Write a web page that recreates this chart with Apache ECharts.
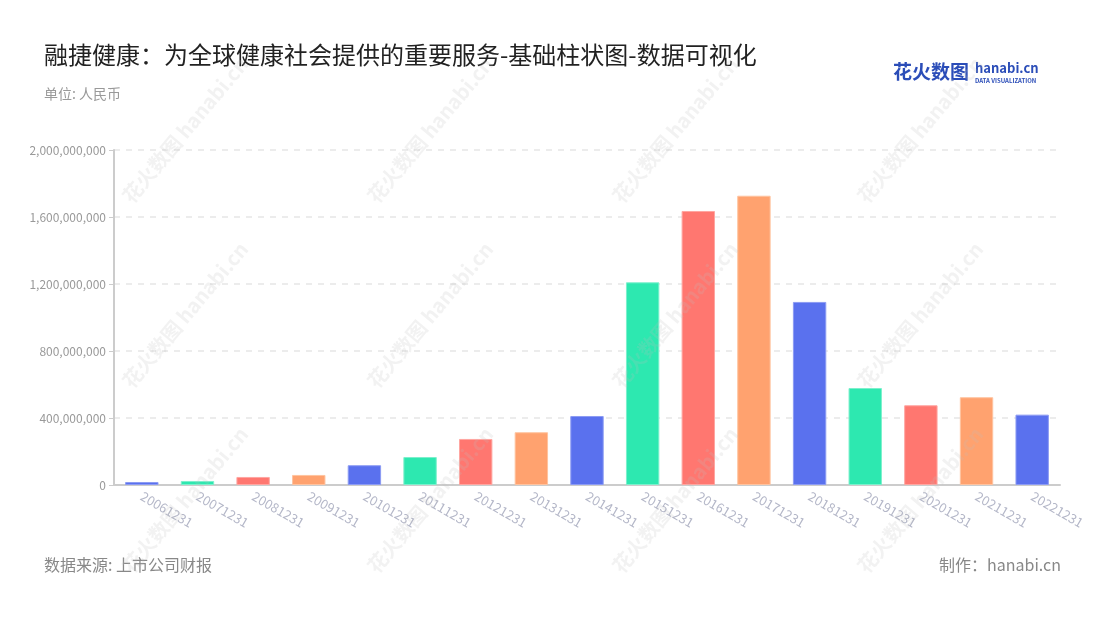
<!DOCTYPE html>
<html>
<head>
<meta charset="utf-8">
<title>融捷健康 基础柱状图</title>
<script src="https://cdn.jsdelivr.net/npm/echarts@6/dist/echarts.min.js"></script>
<style>
html, body { margin: 0; padding: 0; background: #fff; }
#main { width: 1100px; height: 620px; }
</style>
</head>
<body>
<div id="main"></div>
<script>
var dates = ['20061231', '20071231', '20081231', '20091231', '20101231', '20111231',
	'20121231', '20131231', '20141231', '20151231', '20161231', '20171231',
	'20181231', '20191231', '20201231', '20211231', '20221231'];
var revenue = [18000000, 24000000, 48000000, 60000000, 118000000, 167000000,
	275000000, 315000000, 412000000, 1210000000, 1636000000, 1727000000,
	1093000000, 579000000, 476000000, 524000000, 420000000];
var yTicks = [0, 400000000, 800000000, 1200000000, 1600000000, 2000000000];
var barColors = ['#5A71EE', '#2DE8B0', '#FF7770', '#FFA26F'];
var barBorders = ['#8C9BF3', '#7CF0CC', '#FFA6A1', '#FFC39F'];

var FONT = '"Noto Sans CJK SC", "Noto Sans", sans-serif';
var myChart = echarts.init(document.getElementById('main'));

// bar items, coloured in turn
var barData = [];
for (var k = 0; k < revenue.length; k++) {
	barData.push({
		value: revenue[k],
		itemStyle: {
			color: barColors[k % 4],
			borderColor: barBorders[k % 4],
			borderWidth: 1
		}
	});
}

// faint tiled watermark
var marks = [];
var wmX = [185, 430, 675, 920];
var wmY = [130, 315, 500];
for (var i = 0; i < wmX.length; i++) {
	for (var j = 0; j < wmY.length; j++) {
		marks.push({
			type: 'text',
			x: wmX[i],
			y: wmY[j],
			rotation: Math.PI * 50 / 180,
			z: 100,
			silent: true,
			style: {
				text: '花火数图 hanabi.cn',
				font: 'bold 20px ' + FONT,
				fill: 'rgba(190,190,190,0.2)',
				align: 'center',
				verticalAlign: 'middle'
			}
		});
	}
}

var option = {
	backgroundColor: '#fff',
	textStyle: { fontFamily: FONT },
	title: [
		{
			text: '融捷健康：为全球健康社会提供的重要服务-基础柱状图-数据可视化',
			left: 44,
			top: 43,
			padding: 0,
			textStyle: { fontSize: 24, fontWeight: 'normal', color: '#222', fontFamily: FONT }
		},
		{
			text: '单位: 人民币',
			left: 44,
			top: 87,
			padding: 0,
			textStyle: { fontSize: 14, fontWeight: 'normal', color: '#999', fontFamily: FONT }
		},
		{
			text: '数据来源: 上市公司财报',
			left: 44,
			top: 557,
			padding: 0,
			textStyle: { fontSize: 16, fontWeight: 'normal', color: '#888', fontFamily: FONT }
		},
		{
			text: '制作：hanabi.cn',
			right: 39,
			top: 557,
			padding: 0,
			textStyle: { fontSize: 16, fontWeight: 'normal', color: '#888', fontFamily: FONT }
		}
	],
	graphic: marks.concat([
		{
			type: 'text',
			left: 893,
			top: 62,
			style: { text: '花火数图', font: 'bold 19px ' + FONT, fill: '#2B4DB8' }
		},
		{
			type: 'text',
			left: 975,
			top: 62,
			style: { text: 'hanabi.cn', font: 'bold 13px ' + FONT, fill: '#2B4DB8' }
		},
		{
			type: 'text',
			left: 975,
			top: 78,
			style: { text: 'DATA VISUALIZATION', font: 'bold 6px ' + FONT, fill: '#2B4DB8' }
		}
	]),
	grid: {
		left: 114,
		right: 40,
		top: 150,
		bottom: 135,
		containLabel: false
	},
	xAxis: {
		type: 'category',
		data: dates,
		axisLine: { lineStyle: { color: '#ccc', width: 2 } },
		axisTick: { alignWithLabel: true, length: 5, lineStyle: { color: '#ccc' } },
		axisLabel: {
			rotate: -30,
			fontSize: 13,
			color: '#B4B7C8',
			margin: 10,
			interval: 0
		}
	},
	yAxis: {
		type: 'value',
		min: 0,
		max: yTicks[yTicks.length - 1],
		interval: yTicks[1] - yTicks[0],
		axisLine: { show: true, lineStyle: { color: '#ccc', width: 2 } },
		axisTick: { show: true, length: 5, lineStyle: { color: '#ccc' } },
		axisLabel: {
			fontSize: 12,
			color: '#999',
			margin: 8,
			formatter: function (v) { return v.toLocaleString('en-US'); }
		},
		splitLine: { lineStyle: { color: '#e6e6e6', type: [6, 6], width: 1.5 } }
	},
	series: [
		{
			type: 'bar',
			data: barData,
			barWidth: '60%'
		}
	]
};

myChart.setOption(option);
</script>
</body>
</html>
